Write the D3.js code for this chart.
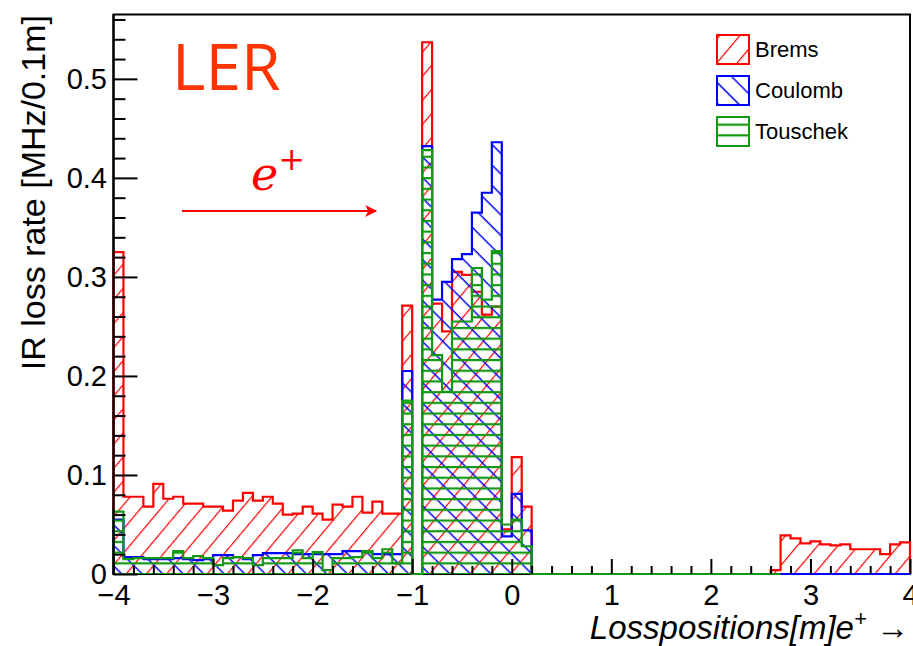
<!DOCTYPE html>
<html><head><meta charset="utf-8">
<script src="https://cdn.jsdelivr.net/npm/d3@7"></script>
<style>
html,body{margin:0;padding:0;background:#fff;}
svg{display:block;}
text{font-family:"Liberation Sans",Arial,Helvetica,sans-serif;}
</style></head>
<body>
<svg id="c" width="913" height="646"></svg>
<script>
// ---- data (bins of 0.1 m from -4 to 4) ----
const binLow = d3.range(80).map(i => +(-4 + i * 0.1).toFixed(1));
const binWidth = 0.1;

const brems = [
 0.325,0.078,0.078,0.068,0.091,0.076,0.078,0.071,0.071,0.068,
 0.068,0.064,0.074,0.082,0.074,0.078,0.071,0.060,0.061,0.068,
 0.061,0.055,0.070,0.068,0.078,0.062,0.073,0.061,0.061,0.271,
 0.000,0.537,0.273,0.245,0.305,0.302,0.285,0.262,0.270,0.045,
 0.118,0.068,0,0,0,0,0,0,0,0,
 0,0,0,0,0,0,0,0,0,0,
 0,0,0,0,0,0,0.004,0.039,0.036,0.031,
 0.033,0.030,0.029,0.030,0.025,0.025,0.025,0.020,0.030,0.032
];
const coulomb = [
 0.055,0.017,0.017,0.015,0.015,0.015,0.016,0.015,0.014,0.015,
 0.019,0.019,0.017,0.015,0.019,0.021,0.021,0.021,0.020,0.020,
 0.020,0.020,0.020,0.023,0.023,0.022,0.020,0.020,0.020,0.205,
 0.000,0.432,0.277,0.295,0.318,0.323,0.365,0.385,0.436,0.038,
 0.081,0.044,0,0,0,0,0,0,0,0,
 0,0,0,0,0,0,0,0,0,0,
 0,0,0,0,0,0,0,0,0,0,
 0,0,0,0,0,0,0,0,0,0
];
const touschek = [
 0.063,0.015,0.016,0.016,0.016,0.016,0.023,0.016,0.018,0.016,
 0.009,0.016,0.017,0.016,0.009,0.016,0.016,0.016,0.024,0.016,
 0.022,0.004,0.016,0.016,0.017,0.023,0.016,0.025,0.011,0.175,
 0.000,0.428,0.221,0.184,0.255,0.255,0.309,0.277,0.326,0.050,
 0.055,0.028,0,0,0,0,0,0,0,0,
 0,0,0,0,0,0,0,0,0,0,
 0,0,0,0,0,0,0,null,null,null,
 null,null,null,null,null,null,null,null,null,null
];
const seriesNames = ["Brems","Coulomb","Touschek"];
const xMajor = [-4,-3,-2,-1,0,1,2,3,4];
const yMajor = [0,0.1,0.2,0.3,0.4,0.5];

// ---- layout ----
const svg = d3.select("#c");
const x = d3.scaleLinear().domain([-4,4]).range([113.5,910]);
const y = d3.scaleLinear().domain([0,0.565]).range([574,14.5]);

const defs = svg.append("defs");
function hatch(id, color, angle, period, sw, yoff){
  const p = defs.append("pattern").attr("id",id)
    .attr("patternUnits","userSpaceOnUse")
    .attr("width",40).attr("height",period)
    .attr("y", yoff||0)
    .attr("patternTransform", angle ? `rotate(${angle})` : null);
  p.append("line").attr("x1",-1).attr("x2",41).attr("y1",sw/2).attr("y2",sw/2)
    .attr("stroke",color).attr("stroke-width",sw);
}
const colors = {Brems:"#ff0000", Coulomb:"#0000ff", Touschek:"#119a11"};
hatch("pBrems", colors.Brems, -50, 15.5, 1.3, 0);
hatch("pCoulomb", colors.Coulomb, 45, 14.5, 1.5, 0);
hatch("pTouschek", colors.Touschek, 0, 10.7, 2.2, 573);

// frame (under histograms)
svg.append("rect").attr("x",x(-4)).attr("y",y.range()[1])
  .attr("width",x(4)-x(-4)).attr("height",y(0)-y.range()[1])
  .attr("fill","none").attr("stroke","#000").attr("stroke-width",2);

function drawHist(vals, name){
  const pts = [];
  vals.forEach((v,i)=>{ if(v!==null) pts.push([binLow[i], v]); });
  const last = pts[pts.length-1];
  const ptsA = pts.concat([[last[0]+binWidth, last[1]]]);
  const area = d3.area().curve(d3.curveStepAfter)
    .x(d=>x(d[0])).y0(y(0)).y1(d=>y(d[1]));
  svg.append("path").attr("d", area(ptsA))
    .attr("fill",`url(#p${name})`).attr("stroke","none");
  const lpts = [[ptsA[0][0],0]].concat(ptsA).concat([[ptsA[ptsA.length-1][0],0]]);
  const line = d3.line().curve(d3.curveStepAfter).x(d=>x(d[0])).y(d=>y(d[1]));
  svg.append("path").attr("d", line(lpts))
    .attr("fill","none").attr("stroke",colors[name]).attr("stroke-width",2.2)
    .attr("stroke-linejoin","miter");
}
drawHist(brems,"Brems");
drawHist(coulomb,"Coulomb");
drawHist(touschek,"Touschek");

// left axis line on top
svg.append("line").attr("x1",x(-4)).attr("x2",x(-4)).attr("y1",y.range()[1]).attr("y2",y(0)+1)
  .attr("stroke","#000").attr("stroke-width",2.2);

// ---- axes ----
const yMinor = d3.range(0,0.561,0.02).map(v=>+v.toFixed(2)).filter(v=>!yMajor.some(m=>Math.abs(m-v)<1e-9));
const xMinor = d3.range(-4,4.01,0.2).map(v=>+v.toFixed(1)).filter(v=>!xMajor.some(m=>Math.abs(m-v)<1e-9));

svg.append("g").attr("transform",`translate(${x(-4)},0)`)
  .call(d3.axisLeft(y).tickValues(yMajor).tickSizeInner(-24).tickSizeOuter(0).tickPadding(6.5)
    .tickFormat(d=> d===0 ? "0" : d3.format(".1f")(d)));
svg.append("g").attr("transform",`translate(${x(-4)},0)`)
  .call(d3.axisLeft(y).tickValues(yMinor).tickSizeInner(-12).tickSizeOuter(0).tickFormat(""));
svg.append("g").attr("transform",`translate(0,${y(0)})`)
  .call(d3.axisBottom(x).tickValues(xMajor).tickSizeInner(-15).tickSizeOuter(0).tickPadding(10)
    .tickFormat(d3.format("d")));
svg.append("g").attr("transform",`translate(0,${y(0)})`)
  .call(d3.axisBottom(x).tickValues(xMinor).tickSizeInner(-8).tickSizeOuter(0).tickFormat(""));
svg.selectAll(".domain").remove();
svg.selectAll(".tick line").attr("stroke","#000").attr("stroke-width",2);
svg.selectAll(".tick text").attr("fill","#000").style("font-size","29px")
  .style("font-family","'Liberation Sans',Arial,sans-serif");

// axis titles
svg.append("text").attr("transform","translate(45,15) rotate(-90)")
  .attr("text-anchor","end").style("font-size","34px").text("IR loss rate [MHz/0.1m]");
const xt = svg.append("text").attr("x",909).attr("y",639).attr("text-anchor","end")
  .style("font-size","33px").style("font-style","italic");
xt.append("tspan").text("Losspositions[m]e");
xt.append("tspan").attr("dy",-13).style("font-size","22px").text("+");
xt.append("tspan").attr("dy",13).style("font-style","normal").text(" →");

// legend
const lg = svg.append("g");
seriesNames.forEach((n,i)=>{
  const yy = 35 + i*41;
  lg.append("rect").attr("x",717).attr("y",yy).attr("width",32).attr("height",29)
    .attr("fill",`url(#p${n})`).attr("stroke",colors[n]).attr("stroke-width",2);
  lg.append("text").attr("x",755).attr("y",yy+22).style("font-size","22px").text(n);
});

// annotations
svg.append("text").attr("x",172).attr("y",90).attr("fill","#ff3300")
  .style("font-family","'Open Sans',sans-serif").style("font-size","64px").text("LER");
const et = svg.append("text").attr("x",251).attr("y",190).attr("fill","#ff0000")
  .style("font-family","'DejaVu Serif',serif").style("font-style","italic").style("font-size","46px");
et.append("tspan").text("e");
et.append("tspan").attr("dy",-20).style("font-style","normal").style("font-size","32px").text("+");
defs.append("marker").attr("id","arr").attr("viewBox","0 0 10 10").attr("refX",9).attr("refY",5)
  .attr("markerWidth",7).attr("markerHeight",6).attr("markerUnits","strokeWidth").attr("orient","auto")
  .append("path").attr("d","M0,0 L10,5 L0,10 L2.5,5 Z").attr("fill","#ff0000");
svg.append("line").attr("x1",182).attr("x2",376).attr("y1",211).attr("y2",211)
  .attr("stroke","#ff0000").attr("stroke-width",2).attr("marker-end","url(#arr)");
</script>
</body></html>
